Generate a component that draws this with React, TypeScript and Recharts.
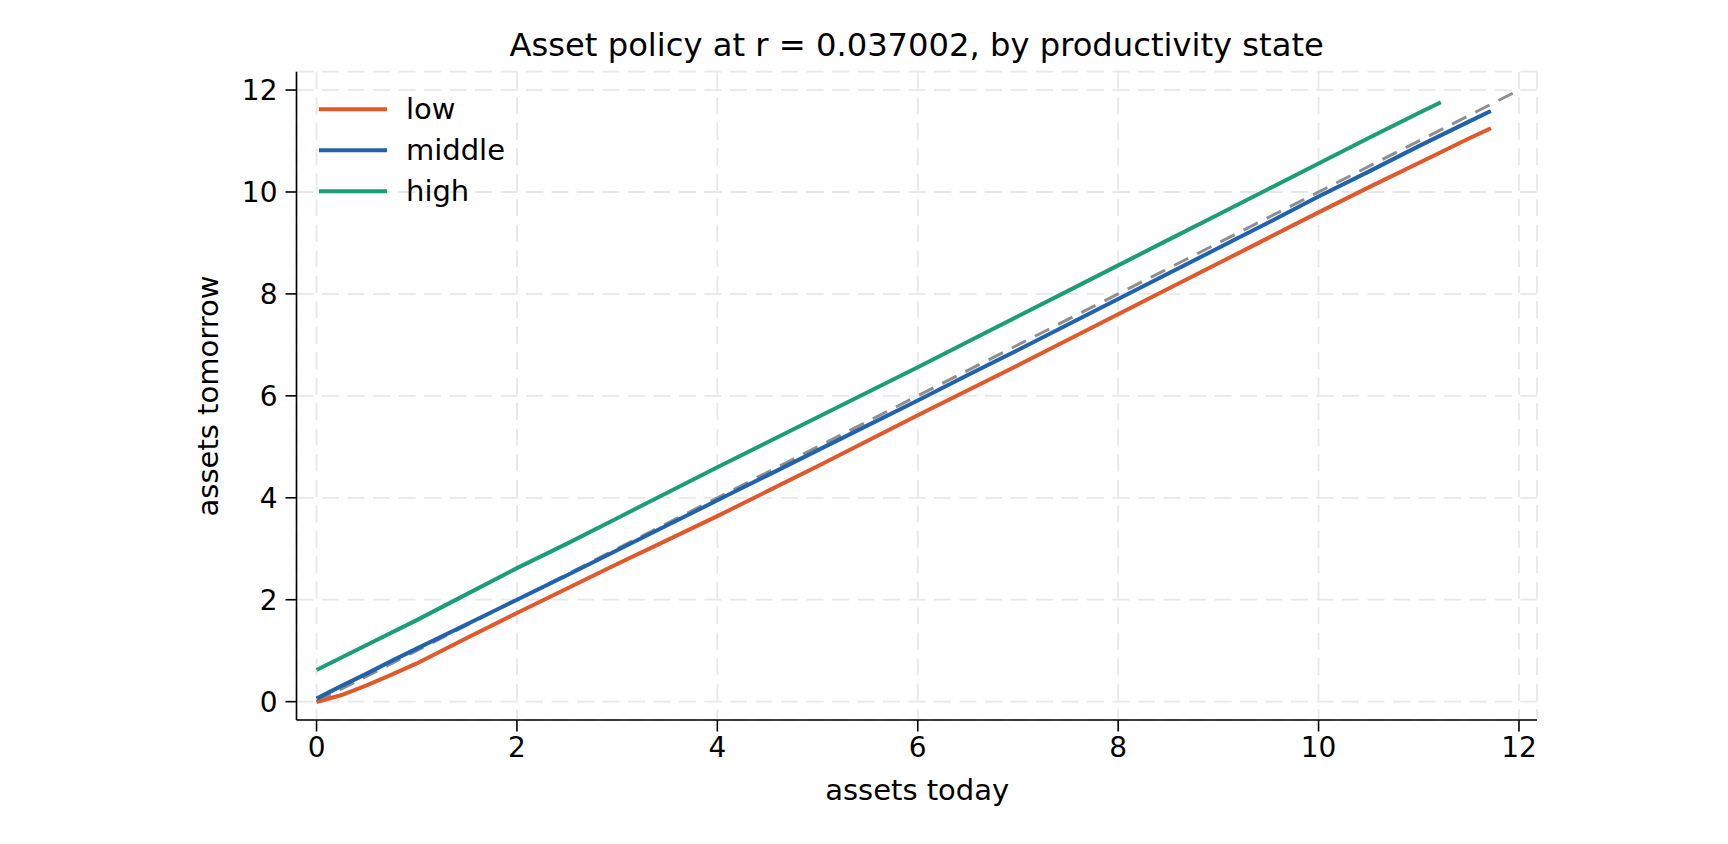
import React from 'react';
import { LineChart, Line, XAxis, YAxis, CartesianGrid, Legend } from 'recharts';

// ---- data ----
const xLowMid = [0, 0.25, 0.5, 0.75, 1, 1.5, 2, 2.5, 3, 3.5, 4, 4.5, 5, 5.5, 6, 6.5, 7, 7.5, 8, 8.5, 9, 9.5, 10, 10.5, 11, 11.5, 11.72];
const lowY = [-0.01, 0.13, 0.32, 0.53, 0.75, 1.25, 1.74, 2.22, 2.7, 3.17, 3.64, 4.13, 4.62, 5.12, 5.62, 6.11, 6.6, 7.1, 7.6, 8.1, 8.6, 9.1, 9.6, 10.09, 10.57, 11.05, 11.25];
const middleY = [0.06, 0.31, 0.55, 0.8, 1.04, 1.52, 2.0, 2.48, 2.97, 3.46, 3.95, 4.44, 4.93, 5.42, 5.91, 6.41, 6.9, 7.4, 7.9, 8.4, 8.9, 9.4, 9.91, 10.4, 10.9, 11.38, 11.59];
const xHigh = [0, 0.5, 1, 1.5, 2, 2.5, 3, 3.5, 4, 4.5, 5, 5.5, 6, 6.5, 7, 7.5, 8, 8.5, 9, 9.5, 10, 10.5, 11, 11.22];
const highY = [0.62, 1.11, 1.6, 2.11, 2.62, 3.1, 3.6, 4.1, 4.6, 5.09, 5.58, 6.07, 6.56, 7.06, 7.56, 8.06, 8.56, 9.06, 9.56, 10.06, 10.56, 11.06, 11.55, 11.76];
const diagX = [0, 12];
const diagY = [0, 12];
const axisTicks = [0, 2, 4, 6, 8, 10, 12];
const seriesNames = ['low', 'middle', 'high'];
const seriesColors = ['#e0592b', '#2062ad', '#1b9e77'];
const titleText = 'Asset policy at r = 0.037002, by productivity state';
const xLabelText = 'assets today';
const yLabelText = 'assets tomorrow';

const toPoints = (xs: number[], ys: number[]) => xs.map((x, i) => ({ x, y: ys[i] }));

const FONT = '"DejaVu Sans", sans-serif';
const W = 1712;
const H = 826;

const LegendContent = (props: any) => {
  const items = (props.payload || [])
    .filter((p: any) => seriesNames.includes(p.value))
    .sort((a: any, b: any) => seriesNames.indexOf(a.value) - seriesNames.indexOf(b.value));
  return (
    <svg width={220} height={130} style={{ display: 'block' }}>
      {items.map((p: any, i: number) => {
        const cy = 21.3 + 41 * i;
        return (
          <g key={p.value}>
            <line x1={19} x2={87} y1={cy} y2={cy} stroke={p.color} strokeWidth={4} />
            <text x={106} y={cy + 10} fontFamily={FONT} fontSize={29} fill="#000">
              {p.value}
            </text>
          </g>
        );
      })}
    </svg>
  );
};

export default function App() {
  const lowData = toPoints(xLowMid, lowY);
  const midData = toPoints(xLowMid, middleY);
  const highData = toPoints(xHigh, highY);
  const diagData = toPoints(diagX, diagY);
  const seriesData = [lowData, midData, highData];

  const tickStyle = { fontFamily: FONT, fontSize: 28, fill: '#000' };

  return (
    <div style={{ position: 'relative', width: W, height: H }}>
      <LineChart
        width={W}
        height={H}
        margin={{ top: 63.7, right: 183, bottom: 34, left: 208.5 }}
      >
        <CartesianGrid stroke="#e8e8e8" strokeWidth={1.8} strokeDasharray="17 8.5" />
        <XAxis
          type="number"
          dataKey="x"
          domain={[-0.2, 12.18]}
          allowDataOverflow
          ticks={axisTicks}
          interval={0}
          height={80}
          tickSize={11.5}
          tickMargin={6}
          tick={tickStyle}
          axisLine={{ stroke: '#000', strokeWidth: 1.6 }}
          tickLine={{ stroke: '#000', strokeWidth: 1.6 }}
        />
        <YAxis
          type="number"
          dataKey="y"
          domain={[-0.36, 12.36]}
          allowDataOverflow
          ticks={axisTicks}
          interval={0}
          width={80}
          tickSize={11}
          tickMargin={8}
          tick={tickStyle}
          axisLine={{ stroke: '#000', strokeWidth: 1.6 }}
          tickLine={{ stroke: '#000', strokeWidth: 1.6 }}
        />
        <Line
          data={diagData}
          dataKey="y"
          name="45 degree"
          legendType="none"
          stroke="#8f8f8f"
          strokeWidth={3}
          strokeDasharray="16 10"
          dot={false}
          activeDot={false}
          isAnimationActive={false}
        />
        {seriesNames.map((n, i) => (
          <Line
            key={n}
            data={seriesData[i]}
            dataKey="y"
            name={n}
            type="linear"
            stroke={seriesColors[i]}
            strokeWidth={4}
            dot={false}
            activeDot={false}
            isAnimationActive={false}
          />
        ))}
        <Legend
          layout="horizontal"
          align="center"
          verticalAlign="middle"
          content={<LegendContent />}
          wrapperStyle={{ position: 'absolute', top: 80, left: 292, width: 220, height: 130 }}
        />
      </LineChart>
      <svg
        width={W}
        height={H}
        style={{ position: 'absolute', top: 0, left: 0, pointerEvents: 'none' }}
      >
        <text x={908.7} y={48} textAnchor="middle" fontFamily={FONT} fontSize={32.2} fill="#000">
          {titleText}
        </text>
        <text x={909.2} y={792} textAnchor="middle" fontFamily={FONT} fontSize={29} fill="#000">
          {xLabelText}
        </text>
        <text
          x={209.5}
          y={388}
          textAnchor="middle"
          fontFamily={FONT}
          fontSize={29}
          fill="#000"
          transform="rotate(-90 209.5 388)"
        >
          {yLabelText}
        </text>
      </svg>
    </div>
  );
}
